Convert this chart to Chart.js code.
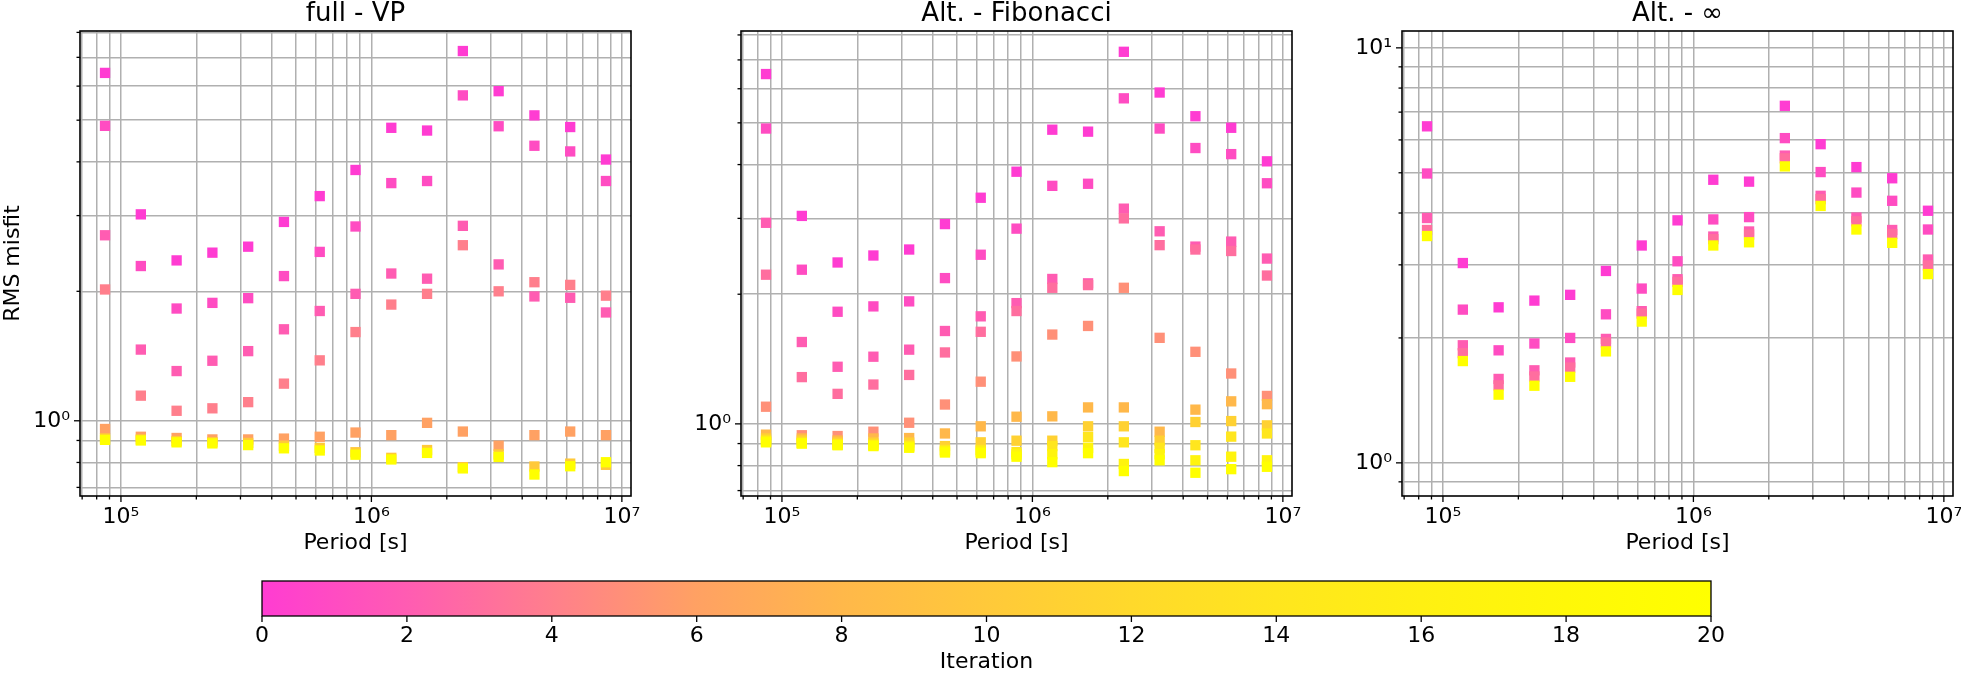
<!DOCTYPE html>
<html><head><meta charset="utf-8">
<script src="https://cdn.jsdelivr.net/npm/chart.js@4.4.1/dist/chart.umd.min.js"></script>
<style>
html,body{margin:0;padding:0;background:#fff;}
#wrap{position:relative;width:1961px;height:673px;overflow:hidden;}
canvas{position:absolute;left:0;top:0;width:1961px;height:673px;}
</style>
</head><body>
<div id="wrap">
<canvas id="c1" width="1961" height="673"></canvas>
<canvas id="c2" width="1961" height="673"></canvas>
<canvas id="c3" width="1961" height="673"></canvas>
<canvas id="cb" width="1961" height="673"></canvas>
</div>
<script>
// ---------------- data ----------------
const periods = [86400, 120050, 166810, 231790, 322070, 447520, 621840, 864050, 1200600, 1668200, 2318000, 3220900, 4475300, 6218400, 8640000];

// full - VP
const vpIter0  = [6.44, 3.02, 2.36, 2.46, 2.54, 2.90, 3.33, 3.83, 4.80, 4.73, 7.24, 5.84, 5.13, 4.82, 4.05];
const vpIter1  = [4.85, 2.29, 1.824, 1.88, 1.928, 2.17, 2.47, 2.83, 3.57, 3.61, 5.71, 4.84, 4.36, 4.23, 3.61];
const vpIter2  = [2.70, 1.464, 1.305, 1.379, 1.452, 1.632, 1.800, 1.973, 2.20, 2.14, 2.84, 2.31, 1.946, 1.932, 1.786];
const vpIter4  = [2.02, 1.144, 1.055, 1.069, 1.105, 1.220, 1.382, 1.608, 1.863, 1.973, 2.56, 2.00, 2.10, 2.07, 1.954];
const vpIter6  = [0.957, 0.918, 0.912, 0.905, 0.905, 0.909, 0.918, 0.939, 0.926, 0.989, 0.944, 0.875, 0.926, 0.944, 0.926];
const vpIter10 = [0.910, 0.905, 0.897, 0.892, 0.888, 0.875, 0.865, 0.845, 0.820, 0.855, 0.780, 0.835, 0.783, 0.795, 0.790];
const vpIter20 = [0.903, 0.900, 0.891, 0.886, 0.878, 0.863, 0.853, 0.834, 0.813, 0.842, 0.775, 0.824, 0.750, 0.784, 0.801];

// Alt. - Fibonacci
const fibIter0  = [6.49, 3.04, 2.37, 2.46, 2.54, 2.91, 3.35, 3.85, 4.82, 4.77, 7.31, 5.88, 5.18, 4.87, 4.07];
const fibIter1  = [4.85, 2.28, 1.821, 1.874, 1.925, 2.18, 2.47, 2.84, 3.57, 3.61, 5.70, 4.85, 4.37, 4.23, 3.62];
const fibIter2  = [2.93, 1.549, 1.357, 1.432, 1.487, 1.643, 1.777, 1.907, 2.17, 2.12, 3.16, 2.80, 2.58, 2.65, 2.42];
const fibIter3  = [2.22, 1.284, 1.174, 1.234, 1.299, 1.465, 1.636, 1.828, 2.07, 2.10, 3.00, 2.60, 2.54, 2.52, 2.21];
const fibIter5  = [1.096, 0.941, 0.937, 0.959, 1.006, 1.109, 1.253, 1.434, 1.612, 1.688, 2.07, 1.584, 1.470, 1.309, 1.161];
const fibIter8  = [0.944, 0.925, 0.915, 0.925, 0.927, 0.950, 0.987, 1.039, 1.041, 1.092, 1.092, 0.959, 1.079, 1.128, 1.111];
const fibIter11 = [0.925, 0.915, 0.905, 0.905, 0.905, 0.888, 0.906, 0.914, 0.914, 0.987, 0.987, 0.914, 1.010, 1.015, 0.992];
const fibIter14 = [0.915, 0.905, 0.897, 0.895, 0.890, 0.870, 0.870, 0.860, 0.888, 0.932, 0.906, 0.880, 0.892, 0.934, 0.950];
const fibIter17 = [0.910, 0.902, 0.894, 0.891, 0.885, 0.864, 0.862, 0.850, 0.850, 0.880, 0.807, 0.850, 0.823, 0.839, 0.823];
const fibIter20 = [0.906, 0.900, 0.892, 0.888, 0.880, 0.858, 0.855, 0.839, 0.815, 0.855, 0.777, 0.823, 0.770, 0.785, 0.795];

// Alt. - ∞
const infIter0  = [6.47, 3.03, 2.37, 2.46, 2.54, 2.90, 3.34, 3.84, 4.81, 4.76, 7.25, 5.86, 5.16, 4.85, 4.05];
const infIter1  = [4.98, 2.34, 1.867, 1.939, 2.00, 2.28, 2.63, 3.06, 3.86, 3.91, 6.06, 5.02, 4.48, 4.28, 3.65];
const infIter2  = [3.89, 1.920, 1.593, 1.671, 1.745, 1.989, 2.32, 2.77, 3.51, 3.61, 5.50, 4.40, 3.90, 3.64, 3.09];
const infIter3  = [3.64, 1.838, 1.537, 1.615, 1.697, 1.950, 2.29, 2.73, 3.46, 3.55, 5.42, 4.32, 3.82, 3.56, 2.99];
const infIter20 = [3.52, 1.759, 1.460, 1.534, 1.612, 1.856, 2.19, 2.61, 3.34, 3.40, 5.18, 4.16, 3.65, 3.39, 2.85];

const panelTitles = ['full - VP', 'Alt. - Fibonacci', 'Alt. - \u221E'];
const xMajorTicks = [1e5, 1e6, 1e7];
const xTickLabels = ['10\u2075', '10\u2076', '10\u2077'];
const yMajorTicks = [1, 10];
const yTickLabels = ['10\u2070', '10\u00B9'];
const cbTicks = [0, 2, 4, 6, 8, 10, 12, 14, 16, 18, 20];
const cbTickLabels = ['0', '2', '4', '6', '8', '10', '12', '14', '16', '18', '20'];
const cmapPos = [0, 0.1, 0.2, 0.3, 0.4, 0.5, 0.6, 0.7, 0.8, 0.9, 1];
const cmapHex = ['#ff3cd2', '#ff5cb2', '#ff7f8c', '#ffa163', '#ffb84a', '#ffc93a', '#ffd92b', '#ffe61e', '#fff012', '#fff808', '#ffff00'];

// ---------------- helpers ----------------
const W = 1961, H = 673;
Chart.defaults.font.family = "'DejaVu Sans', sans-serif";
Chart.defaults.color = '#000';

function hexToRgb(h) { return [1, 3, 5].map(i => parseInt(h.substr(i, 2), 16)); }
function iterColor(it) {
  const t = Math.max(0, Math.min(1, it / 20));
  let k = 0;
  while (k < cmapPos.length - 2 && t > cmapPos[k + 1]) k++;
  const f = (t - cmapPos[k]) / (cmapPos[k + 1] - cmapPos[k]);
  const a = hexToRgb(cmapHex[k]), b = hexToRgb(cmapHex[k + 1]);
  const c = a.map((v, i) => Math.round(v + (b[i] - v) * f));
  return `rgb(${c[0]},${c[1]},${c[2]})`;
}
function isPow10(v) { const l = Math.log10(v); return Math.abs(l - Math.round(l)) < 1e-9; }
function labelFor(v, majors, labels) {
  for (let j = 0; j < majors.length; j++) if (Math.abs(v - majors[j]) / majors[j] < 1e-6) return labels[j];
  return '';
}
function logGrid(min, max) {
  const out = [];
  for (let e = Math.floor(Math.log10(min)); e <= Math.ceil(Math.log10(max)); e++) {
    for (let m = 1; m <= 9; m++) {
      const v = m * Math.pow(10, e);
      if (v >= min && v <= max) out.push(v);
    }
  }
  return out;
}
function makeDatasets(list) {
  return list.map(([it, vals]) => ({
    label: 'Iteration ' + it,
    data: periods.map((p, i) => ({ x: p, y: vals[i] })),
    backgroundColor: iterColor(it),
    borderWidth: 0,
    pointStyle: 'rect',
    pointRadius: 7.3,
    pointHoverRadius: 7.3,
    pointBorderWidth: 0,
    order: -it
  }));
}

const framePlugin = {
  id: 'frame',
  afterDatasetsDraw(chart, args, opts) {
    const { ctx, chartArea: a } = chart;
    ctx.save();
    ctx.strokeStyle = '#000';
    ctx.lineWidth = 1.3;
    ['x', 'y'].forEach(id => {
      const s = chart.scales[id];
      if (!s || s.options.display === false) return;
      s.ticks.forEach(t => {
        const major = opts.allMajor || isPow10(t.value);
        const len = major ? 6 : 3.5;
        const p = s.getPixelForValue(t.value);
        ctx.beginPath();
        if (id === 'x') { ctx.moveTo(p, a.bottom); ctx.lineTo(p, a.bottom + len); }
        else { ctx.moveTo(a.left, p); ctx.lineTo(a.left - len, p); }
        ctx.stroke();
      });
    });
    ctx.lineWidth = opts.frameWidth || 1.6;
    ctx.strokeRect(a.left, a.top, a.right - a.left, a.bottom - a.top);
    ctx.restore();
  }
};

const gradientPlugin = {
  id: 'cbgrad',
  beforeDatasetsDraw(chart, args, opts) {
    if (!opts.enabled) return;
    const { ctx, chartArea: a } = chart;
    const g = ctx.createLinearGradient(a.left, 0, a.right, 0);
    cmapPos.forEach((p, i) => g.addColorStop(p, cmapHex[i]));
    ctx.save();
    ctx.fillStyle = g;
    ctx.fillRect(a.left, a.top, a.right - a.left, a.bottom - a.top);
    ctx.restore();
  }
};

const xMin = 68630, xMax = 1.0876e7;
const xGrid = logGrid(xMin, xMax);

function panel(canvasId, title, sets, yMin, yMax, area, showYTitle) {
  const yGrid = logGrid(yMin, yMax);
  const yW = 80, xH = 60;
  return new Chart(document.getElementById(canvasId), {
    type: 'scatter',
    data: { datasets: makeDatasets(sets) },
    plugins: [framePlugin],
    options: {
      responsive: false, animation: false, devicePixelRatio: 1, events: [],
      layout: { padding: { left: area.left - yW, right: W - area.right, top: 0, bottom: H - area.bottom - xH } },
      plugins: {
        legend: { display: false }, tooltip: { enabled: false },
        title: { display: true, text: title, fullSize: false, color: '#000',
                 font: { size: 26, weight: 'normal', lineHeight: 1 }, padding: { top: 1, bottom: 4 } },
        frame: { allMajor: false }
      },
      scales: {
        x: {
          type: 'logarithmic', min: xMin, max: xMax,
          afterBuildTicks: s => { s.ticks = xGrid.map(v => ({ value: v })); },
          ticks: { autoSkip: false, maxRotation: 0, minRotation: 0, padding: 10, color: '#000',
                   font: { size: 22, lineHeight: 1 },
                   callback: v => labelFor(v, xMajorTicks, xTickLabels) },
          grid: { color: '#b0b0b0', lineWidth: 1.5, drawTicks: false },
          border: { display: false },
          title: { display: true, text: 'Period [s]', color: '#000', font: { size: 22, lineHeight: 1 }, padding: { top: 0, bottom: 2 } },
          afterFit: s => { s.height = xH; s.paddingLeft = 0; s.paddingRight = 0; }
        },
        y: {
          type: 'logarithmic', min: yMin, max: yMax,
          afterBuildTicks: s => { s.ticks = yGrid.map(v => ({ value: v })); },
          ticks: { autoSkip: false, padding: 10, color: '#000', font: { size: 22, lineHeight: 1 },
                   callback: v => labelFor(v, yMajorTicks, yTickLabels) },
          grid: { color: '#b0b0b0', lineWidth: 1.5, drawTicks: false },
          border: { display: false },
          title: { display: showYTitle, text: 'RMS misfit', color: '#000', font: { size: 22, lineHeight: 1 }, padding: { top: 2, bottom: 0 } },
          afterFit: s => { s.width = yW; s.paddingTop = 0; s.paddingBottom = 0; }
        }
      }
    }
  });
}

panel('c1', panelTitles[0],
  [[0, vpIter0], [1, vpIter1], [2, vpIter2], [4, vpIter4], [6, vpIter6], [10, vpIter10], [20, vpIter20]],
  0.6685, 8.06, { left: 80, right: 631, bottom: 496 }, true);
panel('c2', panelTitles[1],
  [[0, fibIter0], [1, fibIter1], [2, fibIter2], [3, fibIter3], [5, fibIter5], [8, fibIter8], [11, fibIter11], [14, fibIter14], [17, fibIter17], [20, fibIter20]],
  0.680, 8.17, { left: 741, right: 1292, bottom: 496 }, false);
panel('c3', panelTitles[2],
  [[0, infIter0], [1, infIter1], [2, infIter2], [3, infIter3], [20, infIter20]],
  0.832, 10.98, { left: 1402, right: 1953, bottom: 496 }, false);

// colorbar
new Chart(document.getElementById('cb'), {
  type: 'scatter',
  data: { datasets: [] },
  plugins: [gradientPlugin, framePlugin],
  options: {
    responsive: false, animation: false, devicePixelRatio: 1, events: [],
    layout: { padding: { left: 262, right: W - 1711, top: 581, bottom: 0 } },
    plugins: { legend: { display: false }, tooltip: { enabled: false },
               cbgrad: { enabled: true }, frame: { allMajor: true, frameWidth: 1.3 } },
    scales: {
      x: {
        type: 'linear', min: 0, max: 20,
        afterBuildTicks: s => { s.ticks = cbTicks.map(v => ({ value: v })); },
        ticks: { autoSkip: false, maxRotation: 0, minRotation: 0, padding: 9, color: '#000',
                 font: { size: 22, lineHeight: 1 }, callback: (v, i) => cbTickLabels[i] },
        grid: { display: false, drawTicks: false },
        border: { display: false },
        title: { display: true, text: 'Iteration', color: '#000', font: { size: 22, lineHeight: 1 }, padding: { top: 0, bottom: 0 } },
        afterFit: s => { s.height = 57; s.paddingLeft = 0; s.paddingRight = 0; }
      },
      y: { display: false, min: 0, max: 1 }
    }
  }
});
</script>
</body></html>
